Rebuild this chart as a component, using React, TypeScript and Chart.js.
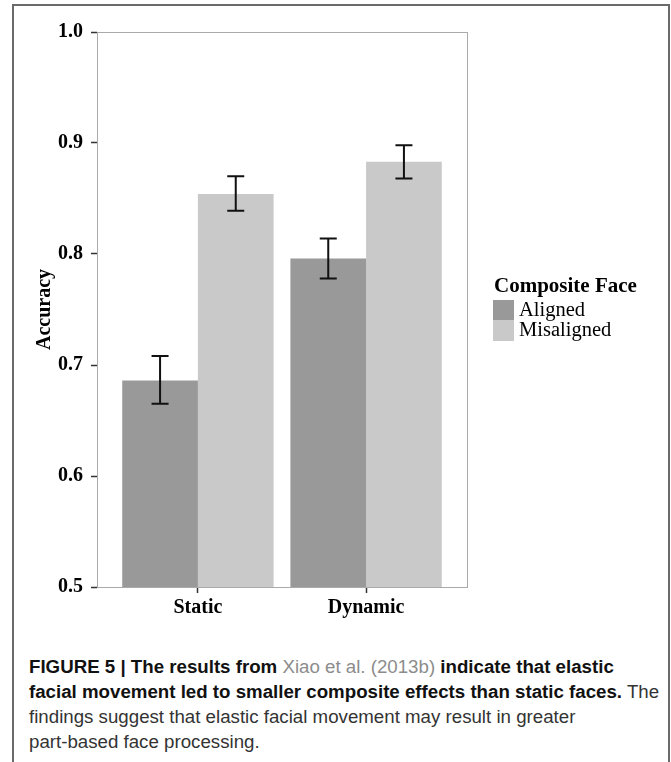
import React, { useEffect, useRef } from "react";
import { Chart, registerables } from "chart.js";

Chart.register(...registerables);

// ---- data ----
const categories = ["Static", "Dynamic"];
const seriesNames = ["Aligned", "Misaligned"];
const alignedMeans = [0.686, 0.796];
const misalignedMeans = [0.854, 0.883];
const alignedLower = [0.665, 0.778];
const alignedUpper = [0.708, 0.814];
const misalignedLower = [0.839, 0.868];
const misalignedUpper = [0.87, 0.898];
const yTickValues = [0.5, 0.6, 0.7, 0.8, 0.9, 1.0];
const yTitle = "Accuracy";
const legendTitle = "Composite Face";

// ---- styles ----
const SERIF = "'Liberation Serif', 'Times New Roman', serif";
const colors = ["#999999", "#c9c9c9"];

const errorBarPlugin = {
  id: "errorBars",
  afterDatasetsDraw(chart: any) {
    const { ctx } = chart;
    const y = chart.scales.y;
    chart.data.datasets.forEach((ds: any, di: number) => {
      const meta = chart.getDatasetMeta(di);
      meta.data.forEach((bar: any, i: number) => {
        const x = bar.x;
        const yl = y.getPixelForValue(ds.errLow[i]);
        const yh = y.getPixelForValue(ds.errHigh[i]);
        ctx.save();
        ctx.strokeStyle = "#111";
        ctx.lineWidth = 2;
        ctx.beginPath();
        ctx.moveTo(x, yl);
        ctx.lineTo(x, yh);
        ctx.moveTo(x - 8.5, yl);
        ctx.lineTo(x + 8.5, yl);
        ctx.moveTo(x - 8.5, yh);
        ctx.lineTo(x + 8.5, yh);
        ctx.stroke();
        ctx.restore();
      });
    });
  },
};

const panelBorderPlugin = {
  id: "panelBorder",
  beforeDatasetsDraw(chart: any) {
    const { ctx, chartArea } = chart;
    ctx.save();
    ctx.strokeStyle = "#aaaaaa";
    ctx.lineWidth = 1;
    ctx.strokeRect(
      Math.round(chartArea.left) + 0.5,
      Math.round(chartArea.top) + 0.5,
      Math.round(chartArea.right - chartArea.left),
      Math.round(chartArea.bottom - chartArea.top)
    );
    ctx.restore();
  },
};

const legendPlugin = {
  id: "sideLegend",
  afterDraw(chart: any) {
    const { ctx, chartArea } = chart;
    const cy = (chartArea.top + chartArea.bottom) / 2;
    const x0 = chartArea.right + 26;
    ctx.save();
    ctx.fillStyle = "#000";
    ctx.textAlign = "left";
    ctx.textBaseline = "middle";
    ctx.font = `bold 21px ${SERIF}`;
    ctx.fillText(legendTitle, x0 + 1, cy - 23);
    ctx.font = `20.5px ${SERIF}`;
    chart.data.datasets.forEach((ds: any, i: number) => {
      const top = cy - 9.5 + i * 20.5;
      ctx.fillStyle = ds.backgroundColor;
      ctx.fillRect(x0, top, 21, 20.5);
      ctx.fillStyle = "#000";
      ctx.fillText(ds.label, x0 + 26, top + 10.5);
    });
    ctx.restore();
  },
};

export default function App() {
  const canvasRef = useRef<HTMLCanvasElement | null>(null);

  useEffect(() => {
    const canvas = canvasRef.current;
    if (!canvas) return;
    const meansList = [alignedMeans, misalignedMeans];
    const lowList = [alignedLower, misalignedLower];
    const highList = [alignedUpper, misalignedUpper];
    const chart = new Chart(canvas, {
      type: "bar",
      data: {
        datasets: seriesNames.map((name, si) => ({
          label: name,
          data: meansList[si].map((v, ci) => ({ x: ci + 1, y: v })),
          backgroundColor: colors[si],
          borderWidth: 0,
          errLow: lowList[si],
          errHigh: highList[si],
          categoryPercentage: 0.9,
          barPercentage: 1.0,
        })) as any,
      },
      options: {
        responsive: false,
        animation: false,
        layout: { padding: { left: 0, top: 32, right: 204, bottom: 0 } },
        plugins: {
          legend: { display: false },
          tooltip: { enabled: false },
        },
        scales: {
          x: {
            type: "linear",
            min: 0.4,
            max: 2.6,
            offset: false,
            afterBuildTicks: (scale: any) => {
              scale.ticks = categories.map((_, i) => ({ value: i + 1 }));
            },
            afterFit: (scale: any) => {
              scale.height = 53;
            },
            ticks: {
              callback: (v: any) => categories[Math.round(Number(v)) - 1] ?? "",
              font: { family: SERIF, size: 20, weight: "bold" },
              color: "#000",
              padding: 3,
              maxRotation: 0,
              autoSkip: false,
            },
            grid: {
              display: true,
              drawOnChartArea: false,
              drawTicks: true,
              tickLength: 6,
              tickColor: "#333",
              tickWidth: 1.5,
              offset: false,
            },
            border: { display: false },
          },
          y: {
            type: "linear",
            min: 0.5,
            max: 1.0,
            afterBuildTicks: (scale: any) => {
              scale.ticks = yTickValues.map((v) => ({ value: v }));
            },
            afterFit: (scale: any) => {
              scale.width = 97;
            },
            ticks: {
              callback: (v: any) => Number(v).toFixed(1),
              font: { family: SERIF, size: 20, weight: "bold" },
              color: "#000",
              padding: 8,
            },
            grid: {
              display: true,
              drawOnChartArea: false,
              drawTicks: true,
              tickLength: 6,
              tickColor: "#333",
              tickWidth: 1.5,
            },
            border: { display: false },
            title: {
              display: true,
              text: yTitle,
              font: { family: SERIF, size: 20, weight: "bold", lineHeight: 1.2 },
              color: "#000",
              padding: { top: 33, bottom: 0 },
            },
          },
        },
      } as any,
      plugins: [panelBorderPlugin, errorBarPlugin, legendPlugin],
    });
    return () => chart.destroy();
  }, []);

  return (
    <div
      style={{
        position: "absolute",
        left: 0,
        top: 0,
        width: 671,
        height: 762,
        overflow: "hidden",
        background: "#fff",
      }}
    >
      <div
        style={{
          position: "absolute",
          left: 12,
          top: 4,
          width: 658,
          height: 800,
          boxSizing: "border-box",
          border: "2px solid #6a6a6a",
          borderBottom: "none",
        }}
      />
      <canvas
        ref={canvasRef}
        width={671}
        height={640}
        style={{ position: "absolute", left: 0, top: 0, width: 671, height: 640 }}
      />
      <div
        style={{
          position: "absolute",
          left: 29,
          top: 654,
          fontFamily: "'Liberation Sans', Arial, sans-serif",
          fontSize: 18.7,
          lineHeight: "25px",
          whiteSpace: "nowrap",
          color: "#333",
        }}
      >
        <b style={{ color: "#111" }}>
          FIGURE 5 | The results from{" "}
          <span style={{ color: "#8c8c8c", fontWeight: 400 }}>Xiao et al. (2013b)</span>{" "}
          indicate that elastic
          <br />
          facial movement led to smaller composite effects than static faces.
        </b>{" "}
        The
        <br />
        findings suggest that elastic facial movement may result in greater
        <br />
        part-based face processing.
      </div>
    </div>
  );
}
